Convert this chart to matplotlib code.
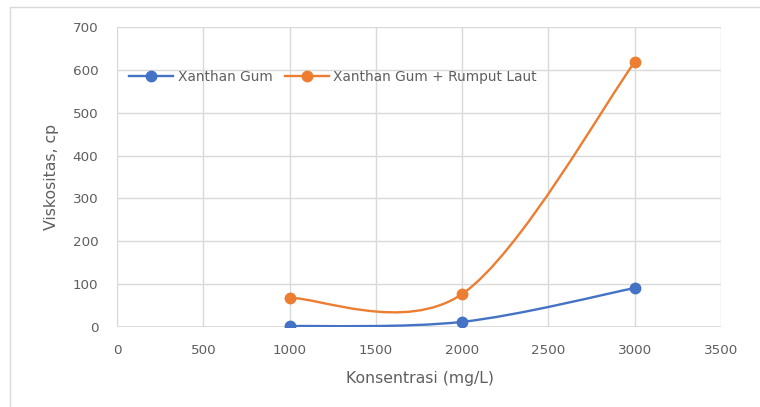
import numpy as np
import matplotlib.pyplot as plt
from matplotlib.path import Path
from matplotlib.patches import PathPatch, Rectangle
from matplotlib.lines import Line2D

plt.rcParams['font.family'] = ['DejaVu Sans']
plt.rcParams['font.size'] = 9.7

konsentrasi = [1000, 2000, 3000]
xanthan = [2, 12, 91]
xanthan_rumput = [68, 77, 618]
labels = ['Xanthan Gum', 'Xanthan Gum + Rumput Laut']
colors = ['#4472C4', '#ED7D31']

TXT = '#5F5F5F'
GRID = '#D9D9D9'


def smooth_path(x, y):
    # Excel-style smoothed line: cubic Bezier through the points
    pts = np.column_stack([x, y]).astype(float)
    n = len(pts)
    verts = [pts[0]]
    codes = [Path.MOVETO]
    for i in range(n - 1):
        p_prev = pts[max(i - 1, 0)]
        p0, p1 = pts[i], pts[i + 1]
        p_next = pts[min(i + 2, n - 1)]
        c1 = p0 + (p1 - p_prev) / 6
        c2 = p1 - (p_next - p0) / 6
        verts += [c1, c2, p1]
        codes += [Path.CURVE4] * 3
    return Path(verts, codes)


fig = plt.figure(figsize=(7.6, 4.07), dpi=100)
ax = fig.add_axes([117 / 760, 1 - 327 / 407, 604 / 760, 300 / 407])

for ys, c in zip([xanthan, xanthan_rumput], colors):
    ax.add_patch(PathPatch(smooth_path(konsentrasi, ys), facecolor='none',
                           edgecolor=c, lw=1.7, zorder=3))
    ax.plot(konsentrasi, ys, 'o', color=c, ms=7.5, zorder=4)

ax.set_xlim(0, 3500)
ax.set_ylim(0, 700)
ax.set_xticks(np.arange(0, 3501, 500))
ax.set_yticks(np.arange(0, 701, 100))
ax.grid(True, color=GRID, lw=1)
ax.set_axisbelow(True)
for s in ax.spines.values():
    s.set_visible(False)
ax.axhline(0, color=GRID, lw=1.2, zorder=1)
ax.tick_params(length=0, colors=TXT, labelsize=9.7)
ax.tick_params(axis='x', pad=12)
ax.tick_params(axis='y', pad=13.5)

ax.set_xlabel('Konsentrasi (mg/L)', color=TXT, fontsize=11.3, va='center')
ax.set_ylabel('Viskositas, cp', color=TXT, fontsize=11.3, va='center')
ax.xaxis.set_label_coords(0.502, -0.17)
ax.yaxis.set_label_coords(-0.108, 0.5)

handles = [Line2D([], [], color=c, lw=1.7, marker='o', ms=7.5) for c in colors]
fig.legend(handles, labels, ncol=2, frameon=False, fontsize=9.9,
           labelcolor=TXT, loc='center left',
           bbox_to_anchor=(117 / 760, 1 - 77 / 407),
           handlelength=3.2, handletextpad=0.3, columnspacing=0.9)

# chart area border
fig.add_artist(Rectangle((10 / 760, -0.1), 1.2, 1 - 7 / 407 + 0.1,
                         transform=fig.transFigure, fill=False,
                         edgecolor=GRID, lw=1))

fig.savefig('out.png', dpi=100)
